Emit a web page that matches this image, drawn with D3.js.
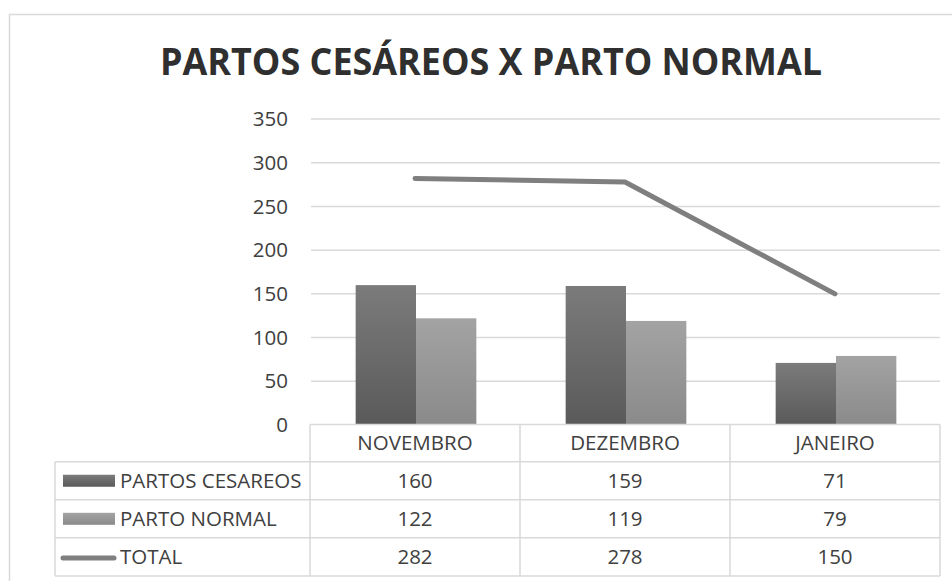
<!DOCTYPE html>
<html>
<head>
<meta charset="utf-8">
<script src="https://cdn.jsdelivr.net/npm/d3@7"></script>
<style>
  body { margin: 0; background: #fff; }
  text { font-family: 'Open Sans', sans-serif; }
</style>
</head>
<body>
<div id="visualization"></div>
<script>
var months = ['NOVEMBRO', 'DEZEMBRO', 'JANEIRO']
var seriesNames = ['PARTOS CESAREOS', 'PARTO NORMAL', 'TOTAL']
var cesareos = [160, 159, 71]
var normal = [122, 119, 79]
var total = [282, 278, 150]
var yTicks = [0, 50, 100, 150, 200, 250, 300, 350]

function drawCanvas () {
  var svg = d3.select('#visualization')
    .append('svg')
    .attr('width', 952)
    .attr('height', 581)
  return svg
}

function drawChart () {
  var svg = drawCanvas()
  var textColor = '#404040'
  var lineColor = '#d9d9d9'
  var fontSize = 20.5

  // outer chart frame
  svg.append('rect')
    .attr('x', 9.5)
    .attr('y', 14.5)
    .attr('width', 960)
    .attr('height', 600)
    .attr('fill', 'none')
    .attr('stroke', lineColor)
    .attr('stroke-width', 1.5)

  var defs = svg.append('defs')
  var grads = [['gCes', '#7b7b7b', '#5a5a5a'], ['gNor', '#a3a3a3', '#8a8a8a']]
  grads.forEach(function (g) {
    var lg = defs.append('linearGradient')
      .attr('id', g[0])
      .attr('x1', 0).attr('y1', 0).attr('x2', 0).attr('y2', 1)
    lg.append('stop').attr('offset', '0%').attr('stop-color', g[1])
    lg.append('stop').attr('offset', '100%').attr('stop-color', g[2])
  })

  svg.append('text')
    .attr('x', 491)
    .attr('y', 75)
    .attr('text-anchor', 'middle')
    .attr('font-weight', 'bold')
    .attr('font-size', 38)
    .attr('fill', '#2f2f2f')
    .attr('textLength', 662)
    .attr('lengthAdjust', 'spacingAndGlyphs')
    .text('PARTOS CESÁREOS X PARTO NORMAL')

  var x = d3.scaleBand()
    .domain(months)
    .range([310, 940])

  var y = d3.scaleLinear()
    .domain([0, 350])
    .range([425, 119])

  var x1 = d3.scaleBand()
    .domain([0, 1])
    .range([0, x.bandwidth()])
    .paddingInner(0)
    .paddingOuter(0.74)

  // gridlines
  svg.append('g').selectAll('line')
    .data(yTicks.slice(1))
    .enter()
    .append('line')
    .attr('x1', 311)
    .attr('x2', 940)
    .attr('y1', function (d) { return y(d) })
    .attr('y2', function (d) { return y(d) })
    .attr('stroke', lineColor)
    .attr('stroke-width', 1.5)

  svg.append('g').selectAll('text')
    .data(yTicks)
    .enter()
    .append('text')
    .attr('x', 288)
    .attr('y', function (d) { return y(d) })
    .attr('dy', '.35em')
    .attr('text-anchor', 'end')
    .attr('font-size', fontSize)
    .attr('fill', textColor)
    .text(function (d) { return d })

  // bars
  var barData = [cesareos, normal]
  var fills = ['url(#gCes)', 'url(#gNor)']
  barData.forEach(function (vals, s) {
    svg.append('g').selectAll('rect')
      .data(vals)
      .enter()
      .append('rect')
      .attr('x', function (d, i) { return x(months[i]) + x1(s) + 1 })
      .attr('width', x1.bandwidth())
      .attr('y', function (d) { return y(d) })
      .attr('height', function (d) { return y(0) - y(d) })
      .attr('fill', fills[s])
  })

  // total line
  var line = d3.line()
    .x(function (d, i) { return x(months[i]) + x.bandwidth() / 2 })
    .y(function (d) { return y(d) })

  svg.append('path')
    .datum(total)
    .attr('d', line)
    .attr('fill', 'none')
    .attr('stroke', '#7f7f7f')
    .attr('stroke-width', 5)
    .attr('stroke-linecap', 'round')
    .attr('stroke-linejoin', 'round')

  // data table
  var rowTop = [424.5, 461.7, 499.8, 537.8, 576]
  var tbl = svg.append('g')
    .attr('fill', 'none')
    .attr('stroke', lineColor)
    .attr('stroke-width', 1.5)

  tbl.append('line').attr('x1', 310).attr('x2', 940).attr('y1', rowTop[0]).attr('y2', rowTop[0])
  for (var r = 1; r < rowTop.length; r++) {
    tbl.append('line').attr('x1', 55).attr('x2', 940).attr('y1', rowTop[r]).attr('y2', rowTop[r])
  }
  tbl.append('line').attr('x1', 55).attr('x2', 55).attr('y1', rowTop[1]).attr('y2', rowTop[4])
  var colEdges = [310, 520, 730, 940]
  colEdges.forEach(function (cx) {
    tbl.append('line').attr('x1', cx).attr('x2', cx).attr('y1', rowTop[0]).attr('y2', rowTop[4])
  })

  svg.append('g').selectAll('text')
    .data(months)
    .enter()
    .append('text')
    .attr('x', function (d) { return x(d) + x.bandwidth() / 2 })
    .attr('y', (rowTop[0] + rowTop[1]) / 2)
    .attr('dy', '.35em')
    .attr('text-anchor', 'middle')
    .attr('font-size', fontSize)
    .attr('fill', textColor)
    .text(function (d) { return d })

  var rows = [cesareos, normal, total]
  rows.forEach(function (vals, r) {
    var cy = (rowTop[r + 1] + rowTop[r + 2]) / 2
    svg.append('g').selectAll('text')
      .data(vals)
      .enter()
      .append('text')
      .attr('x', function (d, i) { return x(months[i]) + x.bandwidth() / 2 })
      .attr('y', cy)
      .attr('dy', '.35em')
      .attr('text-anchor', 'middle')
      .attr('font-size', fontSize)
      .attr('fill', textColor)
      .text(function (d) { return d })

    svg.append('text')
      .attr('x', 120)
      .attr('y', cy)
      .attr('dy', '.35em')
      .attr('font-size', fontSize)
      .attr('fill', textColor)
      .text(seriesNames[r])

    if (r < 2) {
      svg.append('rect')
        .attr('x', 63)
        .attr('y', cy - 6)
        .attr('width', 52)
        .attr('height', 12)
        .attr('fill', fills[r])
    } else {
      svg.append('line')
        .attr('x1', 63)
        .attr('x2', 114)
        .attr('y1', cy + 1)
        .attr('y2', cy + 1)
        .attr('stroke', '#7f7f7f')
        .attr('stroke-width', 5)
        .attr('stroke-linecap', 'round')
    }
  })
}

drawChart()
</script>
</body>
</html>
